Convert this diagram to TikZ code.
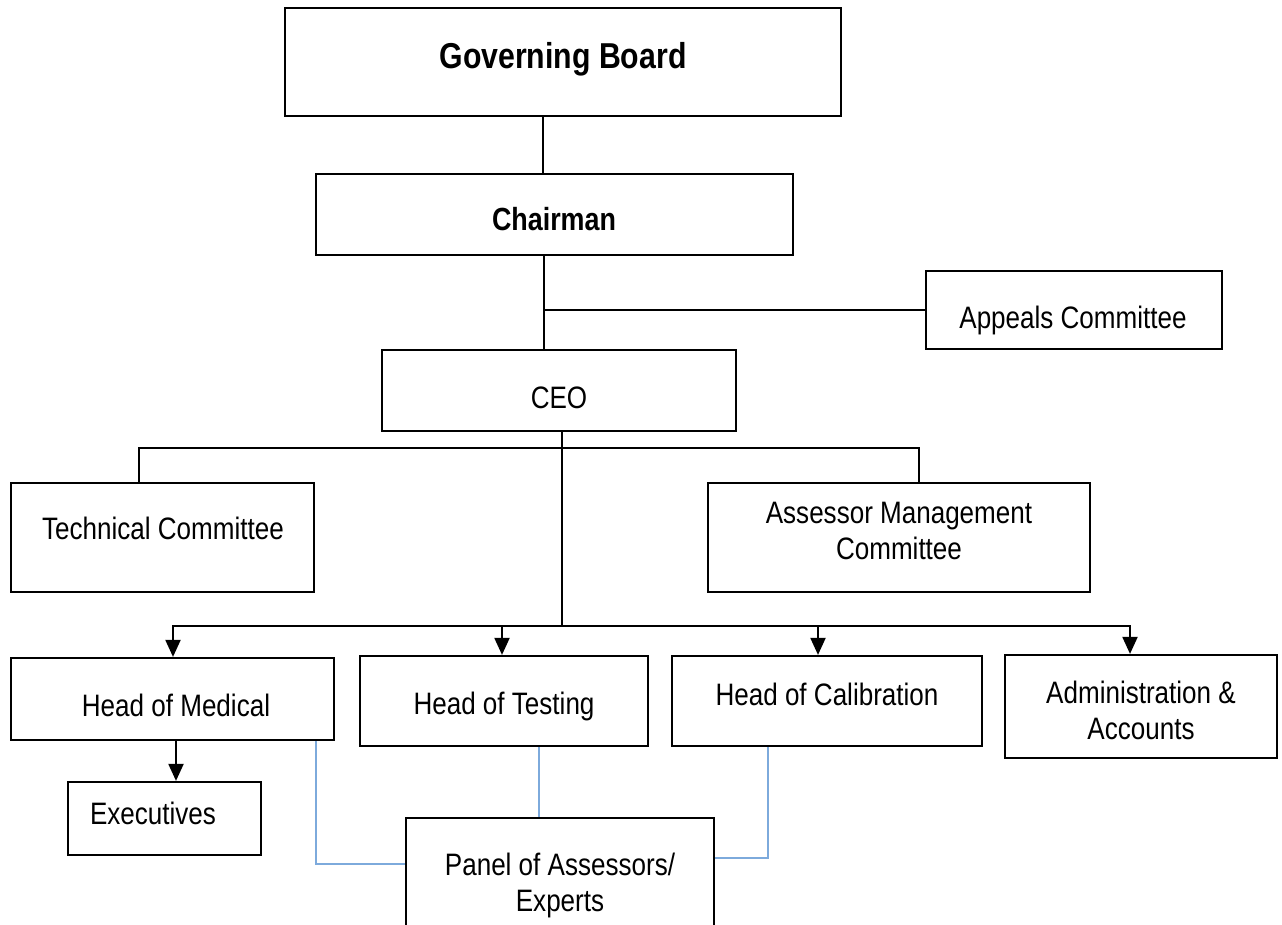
\documentclass[tikz,border=0pt]{standalone}
\usepackage{fontspec}
\setmainfont{Liberation Sans}[FakeStretch=0.84]
\usetikzlibrary{arrows.meta,calc}
\definecolor{linkblue}{RGB}{125,170,220}
\tikzset{
  box/.style={draw=black, line width=2.2pt, inner sep=0pt, fill=white},
  txt/.style={inner sep=0pt, font=\fontsize{31}{36}\selectfont, text height=22pt, text depth=0pt, align=center},
  link/.style={draw=black, line width=2pt},
  arr/.style={draw=black, line width=2pt, -{Triangle[width=15pt,length=17pt]}},
  bluelink/.style={draw=linkblue, line width=1.5pt}
}
\begin{document}
\begin{tikzpicture}[x=1pt,y=-1pt]
\useasboundingbox (0,0) rectangle (1282,925);
\clip (0,0) rectangle (1282,925);
% boxes
\node[box, minimum width=556pt, minimum height=108pt] (gb) at (563,62) {};
\node[box, minimum width=477pt, minimum height=81pt] (ch) at (554.5,214.5) {};
\node[box, minimum width=296pt, minimum height=78pt] (ap) at (1074,310) {};
\node[box, minimum width=354pt, minimum height=81pt] (ceo) at (559,390.5) {};
\node[box, minimum width=303pt, minimum height=109pt] (tc) at (162.5,537.5) {};
\node[box, minimum width=382pt, minimum height=109pt] (am) at (899,537.5) {};
\node[box, minimum width=323pt, minimum height=82pt] (hm) at (172.5,699) {};
\node[box, minimum width=288pt, minimum height=90pt] (ht) at (504,701) {};
\node[box, minimum width=310pt, minimum height=90pt] (hc) at (827,701) {};
\node[box, minimum width=272pt, minimum height=103pt] (aa) at (1141,706.5) {};
\node[box, minimum width=193pt, minimum height=73pt] (ex) at (164.5,818.5) {};
\node[box, minimum width=308pt, minimum height=140pt] (pa) at (560,888) {};
% texts
\node[txt, font=\fontsize{36}{40}\selectfont\bfseries, text height=26pt] (gbt) at (563,56) {Governing Board};
\node[txt, font=\fontsize{32}{36}\selectfont\bfseries, text height=23pt] (cht) at (554,219.5) {Chairman};
\node[txt] (apt) at (1073,317) {Appeals Committee};
\node[txt] (ceot) at (559,397) {CEO};
\node[txt] (tct) at (163,528) {Technical Committee};
\node[txt] (amt) at (899,548) {Assessor Management\\Committee};
\node[txt] (hmt) at (176,705) {Head of Medical};
\node[txt] (htt) at (504,703) {Head of Testing};
\node[txt] (hct) at (827,694) {Head of Calibration};
\node[txt] (aat) at (1141,728) {Administration \&\\Accounts};
\node[txt] (ext) at (153,813) {Executives};
\node[txt] (pat) at (560,900) {Panel of Assessors/\\Experts};
% helper coordinates
\coordinate (c1) at (543,0);
\coordinate (c2) at (544,0);
\coordinate (j0) at (562,448);
\coordinate (j1) at (562,626);
\coordinate (xt) at (139,0);
\coordinate (xm) at (919,0);
\coordinate (xc) at (818,0);
\coordinate (xa) at (1130,0);
\coordinate (xh) at (173,0);
\coordinate (xs) at (502,0);
\coordinate (xe) at (176,0);
\coordinate (b1) at (316,864);
\coordinate (b2) at (539,0);
\coordinate (b3) at (768,858);
% connectors
\draw[link] (gb.south -| c1) -- (ch.north -| c1);
\draw[link] (ch.south -| c2) -- (ceo.north -| c2);
\draw[link] (ap.west) -- (ap.west -| c2);
\draw[link] (ceo.south -| j0) -- (j1);
\draw[link] (j0) -| (tc.north -| xt);
\draw[link] (j0) -| (am.north -| xm);
\draw[arr] (j1) -| (hm.north -| xh);
\draw[arr] (j1) -| (ht.north -| xs);
\draw[arr] (j1) -| (hc.north -| xc);
\draw[arr] (j1) -| (aa.north -| xa);
\draw[arr] (hm.south -| xe) -- (ex.north -| xe);
\draw[bluelink] (hm.south -| b1) |- (pa.west |- b1);
\draw[bluelink] (ht.south -| b2) -- (pa.north -| b2);
\draw[bluelink] (hc.south -| b3) |- (pa.east |- b3);
\end{tikzpicture}
\end{document}
